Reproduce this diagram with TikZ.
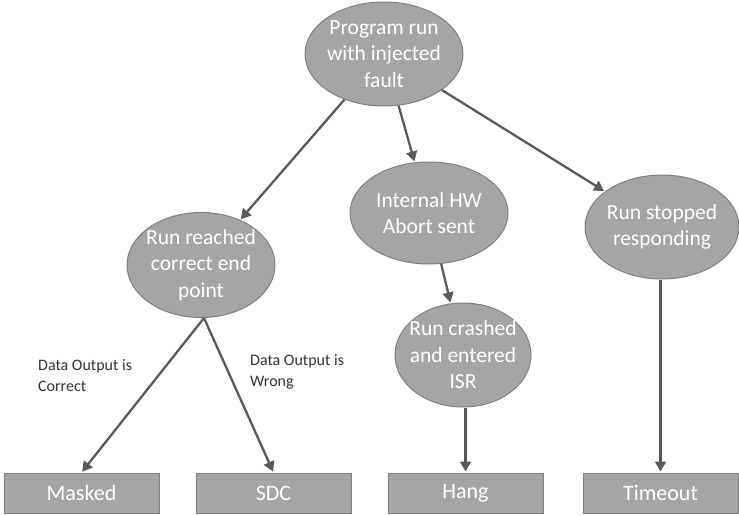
\documentclass[tikz,border=0pt]{standalone}
\usepackage{fontspec}
\setmainfont{Carlito}
\usetikzlibrary{shapes.geometric,arrows.meta}
\definecolor{nodefill}{HTML}{A5A5A5}
\definecolor{nodeline}{HTML}{7F7F7F}
\definecolor{arrowcol}{HTML}{595959}
\begin{document}
\begin{tikzpicture}[x=1pt,y=-1pt,
  state/.style={ellipse, draw=nodeline, fill=nodefill, line width=1pt, inner sep=-40pt,
    text=white, align=center, font=\fontsize{21.5}{26.5}\selectfont},
  outcome/.style={rectangle, draw=nodeline, fill=nodefill, line width=1pt,
    minimum width=155pt, minimum height=40pt, inner sep=0pt, text=white,
    font=\fontsize{22}{25}\selectfont},
  flow/.style={draw=arrowcol, line width=2.3pt, -{Triangle[length=10pt,width=11pt]}, shorten >=1pt},
  edgelabel/.style={align=left, anchor=base west, inner sep=0pt, text=black!80,
    font=\fontsize{16}{20.5}\selectfont}]
\useasboundingbox (0,0) rectangle (739,515);
\node[state, minimum width=158pt, minimum height=104pt] (top) at (384,54) {Program run\\with injected\\fault};
\node[state, minimum width=148pt, minimum height=105pt] (rr) at (201,265) {Run reached\\correct end\\point};
\node[state, minimum width=158pt, minimum height=102pt] (hw) at (429,213) {Internal HW\\Abort sent};
\node[state, minimum width=154pt, minimum height=104pt] (stop) at (662,227) {Run stopped\\responding};
\node[state, minimum width=136pt, minimum height=104pt] (crash) at (463,355) {Run crashed\\and entered\\ISR};
\node[outcome] (masked) at (81.5,493) {Masked};
\node[outcome] (sdc) at (273.5,493) {SDC};
\node[outcome] (hang) at (465.5,493) {Hang};
\node[outcome] (timeout) at (660.5,493) {Timeout};
\coordinate (rrb) at (204,318);
\draw[flow] (top) -- (rr);
\draw[flow] (top) -- (hw);
\draw[flow] (top) -- (stop);
\draw[flow] (hw) -- (crash);
\draw[flow] (crash.south -| hang.north) -- (hang.north);
\draw[flow] (stop.south -| timeout.north) -- (timeout.north);
\draw[flow] (rrb) -- (masked.north);
\draw[flow] (rrb) -- (sdc.north);
\node[edgelabel] (lc) at (38,391) {Data Output is\\Correct};
\node[edgelabel] (lw) at (250,386) {Data Output is\\Wrong};
\end{tikzpicture}
\end{document}
